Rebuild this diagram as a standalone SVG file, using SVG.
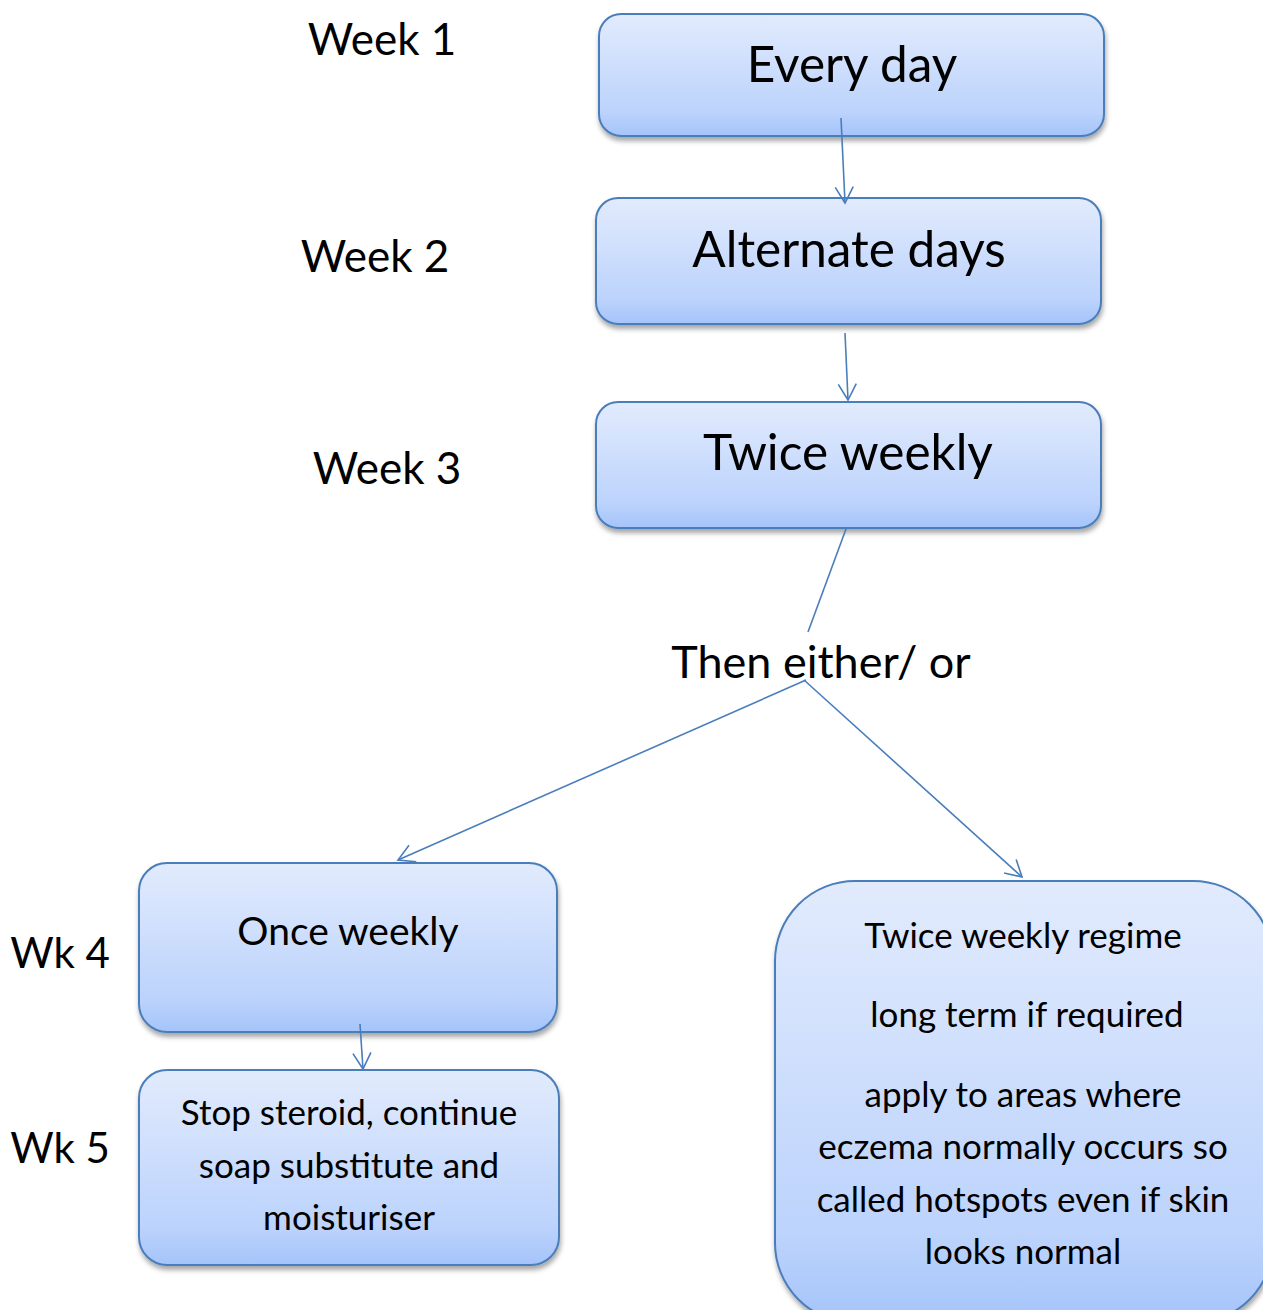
<svg xmlns="http://www.w3.org/2000/svg" width="1263" height="1310" viewBox="0 0 1263 1310">
<defs>
<linearGradient id="g" x1="0" y1="0" x2="0" y2="1">
<stop offset="0" stop-color="#e2ebfd"/>
<stop offset="0.8" stop-color="#bcd3fc"/>
<stop offset="1" stop-color="#a5c4fa"/>
</linearGradient>
<filter id="sh" x="-10%" y="-10%" width="120%" height="130%">
<feDropShadow dx="1" dy="4" stdDeviation="2.5" flood-color="#000" flood-opacity="0.35"/>
</filter>
<marker id="arr" markerWidth="20" markerHeight="22" refX="17" refY="10" orient="auto" markerUnits="userSpaceOnUse">
<path d="M1,1 L17,10 L1,19" fill="none" stroke="#4a7ebb" stroke-width="1.6"/>
</marker>
</defs>
<style>
.box{fill:url(#g);stroke:#4a7ebb;stroke-width:2;filter:url(#sh)}
.t{font-family:Lato,"Open Sans","Liberation Sans",sans-serif;fill:#000;text-anchor:middle}
.s{font-size:35px}
.c{stroke:#4a7ebb;stroke-width:1.6;fill:none}
</style>
<rect width="1263" height="1310" fill="#fff"/>

<g id="labels">
<text class="t" x="382" y="55" font-size="44">Week 1</text>
<text class="t" x="375" y="272" font-size="44">Week 2</text>
<text class="t" x="387" y="484" font-size="44">Week 3</text>
<text class="t" x="60" y="968" font-size="42">Wk 4</text>
<text class="t" x="60" y="1163" font-size="42">Wk 5</text>
</g>

<g id="n1">
<rect class="box" x="599" y="14" width="505" height="122" rx="22"/>
<text class="t" x="852" y="82" font-size="49.5">Every day</text>
</g>
<g id="n2">
<rect class="box" x="596" y="198" width="505" height="126" rx="22"/>
<text class="t" x="849" y="267" font-size="49.5">Alternate days</text>
</g>
<g id="n3">
<rect class="box" x="596" y="402" width="505" height="126" rx="22"/>
<text class="t" x="848" y="470" font-size="49.5">Twice weekly</text>
</g>
<g id="n4">
<text class="t" x="821" y="678" font-size="45">Then either/ or</text>
</g>
<g id="n5">
<rect class="box" x="139" y="863" width="418" height="169" rx="28"/>
<text class="t" x="348" y="945" font-size="39">Once weekly</text>
</g>
<g id="n6">
<rect class="box" x="139" y="1070" width="420" height="195" rx="28"/>
<text class="t s" x="349" y="1125">Stop steroid, continue</text>
<text class="t s" x="349" y="1178">soap substitute and</text>
<text class="t s" x="349" y="1230">moisturiser</text>
</g>
<g id="n7">
<rect class="box" x="775" y="881" width="498" height="442" rx="80"/>
<text class="t s" x="1023" y="948">Twice weekly regime</text>
<text class="t s" x="1027" y="1027">long term if required</text>
<text class="t s" x="1023" y="1107">apply to areas where</text>
<text class="t s" x="1023" y="1159">eczema normally occurs so</text>
<text class="t s" x="1023" y="1212">called hotspots even if skin</text>
<text class="t s" x="1023" y="1264">looks normal</text>
</g>

<g id="connectors">
<line class="c" x1="841" y1="118" x2="845" y2="203" marker-end="url(#arr)"/>
<line class="c" x1="845" y1="333" x2="848" y2="400" marker-end="url(#arr)"/>
<line class="c" x1="846" y1="529" x2="808" y2="632"/>
<line class="c" x1="806" y1="680" x2="398" y2="860" marker-end="url(#arr)"/>
<line class="c" x1="804" y1="680" x2="1022" y2="877" marker-end="url(#arr)"/>
<line class="c" x1="360" y1="1024" x2="363" y2="1069" marker-end="url(#arr)"/>
</g>
</svg>
